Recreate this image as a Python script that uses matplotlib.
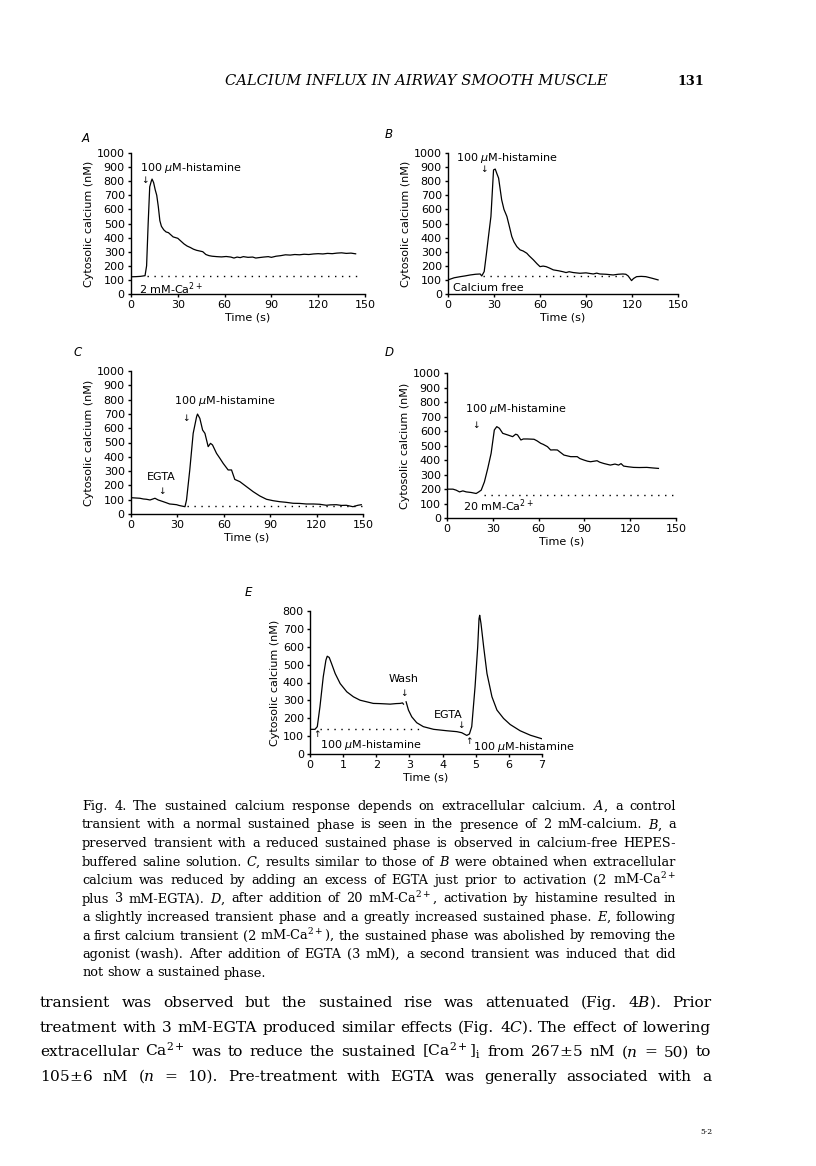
import numpy as np
import matplotlib.pyplot as plt

# page size in pixels (dpi 100)
W, H = 816, 1166

# ---- traces: (time, cytosolic Ca in nM) ----
trace_a = [(0, 122), (3, 123), (6, 125), (9, 130), (10, 200), (11, 500), (12, 760), (13, 800),
           (13.5, 815), (14.5, 790), (15.5, 740), (16.5, 700), (17.5, 620), (18.5, 520), (19.5, 480),
           (21, 455), (22.5, 440), (24, 435), (25.5, 420), (27, 405), (28.5, 400), (30, 395),
           (32, 375), (34, 355), (36, 340), (38, 330), (40, 318), (42, 310), (44, 305), (46, 300),
           (48, 280), (50, 272), (52, 268), (55, 265), (58, 263), (61, 266), (64, 262), (66, 255),
           (68, 262), (70, 258), (72, 265), (75, 260), (78, 262), (80, 255), (82, 258), (85, 262),
           (88, 265), (90, 260), (93, 268), (96, 272), (99, 278), (102, 276), (105, 280), (108, 278),
           (111, 282), (114, 280), (117, 284), (120, 286), (123, 284), (126, 288), (129, 286),
           (132, 290), (135, 292), (138, 288), (141, 290), (144, 285)]

trace_b = [(0, 100), (4, 115), (8, 123), (11, 128), (14.5, 135), (18, 140), (21, 142), (22, 128),
           (23.6, 159), (25, 280), (26.4, 408), (28, 550), (29.7, 880), (30.8, 886), (32, 850),
           (33, 822), (35, 668), (36.5, 600), (38.4, 550), (40, 480), (41.6, 408), (43, 370),
           (44.9, 336), (47, 313), (49, 305), (51.4, 289), (53, 270), (55.7, 242), (58, 215),
           (60, 194), (62, 198), (64, 194), (66, 185), (68.7, 171), (72, 165), (75, 158), (77, 152),
           (79, 158), (81.7, 152), (86, 147), (90, 150), (94.7, 142), (97, 148), (99, 142),
           (103, 140), (107.7, 135), (111, 140), (114, 142), (116, 140), (117.5, 128), (119.7, 95),
           (121, 110), (123, 123), (126, 125), (129, 123), (133, 112), (137, 100)]

trace_c = [(0, 114), (3, 112), (5.8, 110), (8, 105), (10, 103), (12.3, 98), (15.5, 110), (17.6, 98),
           (20.9, 86), (23, 78), (25, 70), (27, 68), (29.5, 65), (31, 60), (32.7, 56), (34.9, 51),
           (35.9, 98), (38, 308), (40.2, 564), (42.4, 680), (43, 699), (44.5, 669), (46.3, 587),
           (47.8, 564), (49.9, 471), (51.4, 494), (52.7, 483), (55.3, 424), (57.5, 389), (59.6, 354),
           (62.8, 308), (65, 308), (67.1, 242), (70.4, 226), (74.7, 191), (79, 156), (83.3, 126),
           (87.6, 103), (91.9, 93), (96.2, 86), (100, 82), (104.8, 75), (109, 74), (113.4, 70),
           (118, 70), (122, 68), (126.3, 61), (129, 64), (132.8, 65), (136, 60), (139.2, 61),
           (143.5, 51), (146.7, 61), (148.9, 65)]

trace_d = [(0, 199), (3.9, 199), (6, 192), (8.2, 180), (10.4, 187), (12.6, 180), (15.8, 176),
           (19.1, 169), (20.8, 180), (22.4, 192), (24.5, 249), (26.7, 342), (28.9, 446), (31, 607),
           (32.6, 630), (34.3, 619), (36.5, 584), (39.7, 573), (43, 561), (45, 578), (46.2, 573),
           (48.4, 538), (50, 545), (52.7, 545), (57, 543), (59, 532), (61.4, 515), (63, 508),
           (65.8, 492), (67.9, 469), (70, 470), (72.3, 469), (74, 455), (76.6, 434), (79, 428),
           (81, 423), (85.3, 423), (87, 410), (89.6, 400), (92, 392), (94, 388), (98.3, 395),
           (100, 385), (102.7, 376), (105, 370), (107, 365), (110, 372), (112.4, 365), (114, 375),
           (115.7, 358), (118.9, 353), (122.2, 349), (126, 348), (130.9, 349), (135, 345),
           (138.5, 342)]

# panel E: two recording segments (trace interrupted at the wash)
trace_e1 = [(0, 138), (0.15, 138), (0.22, 153), (0.3, 264), (0.4, 432), (0.48, 525), (0.52, 547),
            (0.58, 540), (0.65, 506), (0.76, 450), (0.91, 394), (1.11, 348), (1.31, 320),
            (1.51, 301), (1.71, 292), (1.91, 283), (2.1, 282), (2.42, 279), (2.6, 282), (2.72, 283),
            (2.79, 286), (2.82, 279)]
trace_e2 = [(2.9, 292), (2.97, 246), (3.07, 208), (3.22, 175), (3.42, 153), (3.73, 138),
            (4.13, 130), (4.43, 125), (4.58, 119), (4.65, 112), (4.73, 104), (4.81, 112),
            (4.88, 153), (4.98, 376), (5.06, 599), (5.1, 757), (5.12, 776), (5.16, 729),
            (5.24, 599), (5.34, 450), (5.49, 320), (5.64, 246), (5.84, 199), (6.04, 165),
            (6.34, 130), (6.65, 105), (7.0, 85)]

# dotted resting levels: (t_start, t_end, level)
rest_a = (10, 145, 128)
rest_b = (22.8, 114, 128)
rest_c = (36, 150, 56)
rest_d = (24.5, 149, 157)
rest_e = (0.3, 3.3, 138)

ticks_y = list(range(0, 1001, 100))
ticks_x = [0, 30, 60, 90, 120, 150]
ticks_y_e = list(range(0, 801, 100))
ticks_x_e = list(range(0, 8))

caption_lines = [
    "Fig. 4. The sustained calcium response depends on extracellular calcium. $A$, a control",
    "transient with a normal sustained phase is seen in the presence of 2 mM-calcium. $B$, a",
    "preserved transient with a reduced sustained phase is observed in calcium-free HEPES-",
    "buffered saline solution. $C$, results similar to those of $B$ were obtained when extracellular",
    "calcium was reduced by adding an excess of EGTA just prior to activation (2 mM-Ca$^{2+}$",
    "plus 3 mM-EGTA). $D$, after addition of 20 mM-Ca$^{2+}$, activation by histamine resulted in",
    "a slightly increased transient phase and a greatly increased sustained phase. $E$, following",
    "a first calcium transient (2 mM-Ca$^{2+}$), the sustained phase was abolished by removing the",
    "agonist (wash). After addition of EGTA (3 mM), a second transient was induced that did",
    "not show a sustained phase.",
]
body_lines = [
    "transient was observed but the sustained rise was attenuated (Fig. 4$B$). Prior",
    "treatment with 3 mM-EGTA produced similar effects (Fig. 4$C$). The effect of lowering",
    "extracellular Ca$^{2+}$ was to reduce the sustained [Ca$^{2+}$]$_\\mathrm{i}$ from 267$\\pm$5 nM ($n$ = 50) to",
    "105$\\pm$6 nM ($n$ = 10). Pre-treatment with EGTA was generally associated with a",
]

fig = plt.figure(figsize=(W / 100, H / 100), dpi=100)
fig.patch.set_facecolor('white')
renderer = fig.canvas.get_renderer()

SANS = 'DejaVu Sans'
SERIF = 'DejaVu Serif'


def ax_at(x0, y0, x1, y1):
    return fig.add_axes([x0 / W, 1 - y1 / H, (x1 - x0) / W, (y1 - y0) / H])


def style(ax, xticks, yticks):
    for s in ['top', 'right']:
        ax.spines[s].set_visible(False)
    for s in ['left', 'bottom']:
        ax.spines[s].set_linewidth(1.0)
    ax.set_xlim(xticks[0], xticks[-1])
    ax.set_ylim(yticks[0], yticks[-1])
    ax.set_xticks(xticks)
    ax.set_yticks(yticks)
    ax.tick_params(direction='out', length=2.5, width=1, labelsize=8, pad=2)
    ax.set_xlabel('Time (s)', fontsize=8, labelpad=1.5)
    ax.set_ylabel('Cytosolic calcium (nM)', fontsize=8, labelpad=2)
    ax.patch.set_alpha(0)


def trace(ax, pts, rest):
    t, v = zip(*pts)
    ax.plot(t, v, color='black', lw=0.9)
    ax.plot([rest[0], rest[1]], [rest[2], rest[2]], color='black', lw=1.0,
            linestyle=(0, (1, 4)))


def note(ax, x, y, s, ha='left', size=8):
    ax.text(x, y, s, fontsize=size, ha=ha, va='center', family=SANS,
            math_fontfamily='dejavusans')


def arrow(ax, x, y, up=False):
    ax.text(x, y, '\u2191' if up else '\u2193', fontsize=6.5, ha='center', va='center',
            family=SANS)


# ---- panel A ----
ax = ax_at(131, 153, 365, 294)
style(ax, ticks_x, ticks_y)
trace(ax, trace_a, rest_a)
note(ax, 6, 893, '100 $\\mu$M-histamine')
arrow(ax, 9.2, 803)
note(ax, 5.4, 40, '2 mM-Ca$^{2+}$')

# ---- panel B ----
ax = ax_at(448, 153, 678, 294)
style(ax, ticks_x, ticks_y)
trace(ax, trace_b, rest_b)
note(ax, 5.4, 964, '100 $\\mu$M-histamine')
arrow(ax, 23.6, 880)
note(ax, 3, 45, 'Calcium free')

# ---- panel C ----
ax = ax_at(131, 371, 363, 514)
style(ax, ticks_x, ticks_y)
trace(ax, trace_c, rest_c)
note(ax, 28, 790, '100 $\\mu$M-histamine')
arrow(ax, 35.5, 669)
note(ax, 19.8, 256, 'EGTA', ha='center')
arrow(ax, 20.2, 156)

# ---- panel D ----
ax = ax_at(447, 373, 676, 518)
style(ax, ticks_x, ticks_y)
trace(ax, trace_d, rest_d)
note(ax, 11.5, 753, '100 $\\mu$M-histamine')
arrow(ax, 19.1, 635)
note(ax, 10.4, 83, '20 mM-Ca$^{2+}$')

# ---- panel E ----
ax = ax_at(310, 611, 542, 754)
style(ax, ticks_x_e, ticks_y_e)
trace(ax, trace_e1, rest_e)
t, v = zip(*trace_e2)
ax.plot(t, v, color='black', lw=0.9)
note(ax, 2.82, 422, 'Wash', ha='center')
arrow(ax, 2.82, 339)
note(ax, 4.18, 218, 'EGTA', ha='center')
arrow(ax, 4.56, 162)
arrow(ax, 0.22, 108, up=True)
note(ax, 0.3, 50, '100 $\\mu$M-histamine')
arrow(ax, 4.81, 69, up=True)
note(ax, 4.93, 41, '100 $\\mu$M-histamine')

# panel letters
for lbl, (px, py) in {'A': (82, 138), 'B': (385, 135), 'C': (73, 353),
                      'D': (385, 353), 'E': (245, 593)}.items():
    fig.text(px / W, 1 - py / H, lbl, fontsize=8.5, style='italic', family=SANS,
             ha='left', va='center')


# ---- page text (justified blocks) ----
def word_widths(line, size):
    objs = [fig.text(0, 0, w, fontsize=size, family=SERIF, math_fontfamily='dejavuserif')
            for w in line.split(' ')]
    ws = [o.get_window_extent(renderer).width for o in objs]
    for o in objs:
        o.remove()
    return ws


def block(lines, x0, x1, y0, step, max_size):
    # largest size at which every full line fits with ordinary word spacing
    ref = 10.0
    size = max_size
    for line in lines[:-1]:
        ws = word_widths(line, ref)
        nat = sum(ws) + (len(ws) - 1) * ref / 72 * 100 * 0.32
        size = min(size, ref * (x1 - x0) / nat)
    space = size / 72 * 100 * 0.32
    for i, line in enumerate(lines):
        yb = y0 + i * step
        words = line.split(' ')
        objs = [fig.text(0, 1 - yb / H, w, fontsize=size, family=SERIF,
                         math_fontfamily='dejavuserif', va='baseline', ha='left')
                for w in words]
        ws = [o.get_window_extent(renderer).width for o in objs]
        if i == len(lines) - 1:
            gap = space
        else:
            gap = (x1 - x0 - sum(ws)) / (len(words) - 1)
        x = x0
        for o, w in zip(objs, ws):
            o.set_x(x / W)
            x += w + gap


def fit_text(s, x0, x1, yb, size, **kw):
    t = fig.text(x0 / W, 1 - yb / H, s, fontsize=size, va='baseline', ha='left', **kw)
    w = t.get_window_extent(renderer).width
    t.set_fontsize(size * (x1 - x0) / w)
    return t


fit_text('CALCIUM INFLUX IN AIRWAY SMOOTH MUSCLE', 225, 608, 85, 10,
         family=SERIF, style='italic')
fit_text('131', 677, 704, 85, 10, family=SERIF, weight='bold')

block(caption_lines, 82, 676, 810, 18.5, 10.0)
block(body_lines + [''], 40, 711, 1007, 24.6, 12.5)

fig.text(700 / W, 1 - 1134 / H, '5\u00b72', fontsize=5.5, family=SERIF, va='baseline')

fig.savefig('out.png', dpi=100)
